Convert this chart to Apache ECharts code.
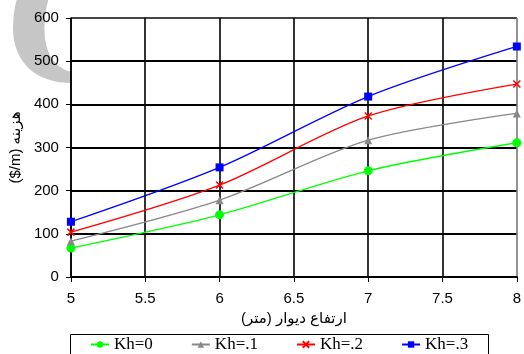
<!DOCTYPE html>
<html>
<head>
<meta charset="utf-8">
<script src="https://cdn.jsdelivr.net/npm/echarts@6/dist/echarts.min.js"></script>
<style>
  html, body { margin: 0; padding: 0; background: #fff; }
  #chart { width: 524px; height: 354px; }
</style>
</head>
<body>
<div id="chart"></div>
<script>
// Wall height (m) on the x axis
const heights = [5, 6, 7, 8];

// Cost per metre for each seismic coefficient Kh
const kh0 = [67, 144, 246, 311];
const kh1 = [83, 178, 317, 379];
const kh2 = [104, 213, 373, 447];
const kh3 = [128, 254, 418, 534];

const seriesNames = ['Kh=0', 'Kh=.1', 'Kh=.2', 'Kh=.3'];

const xName = '\u200Fارتفاع دیوار (متر)\u200F';
const yName = '($/m) هزینه';

const pairs = (ys) => heights.map((x, i) => [x, ys[i]]);

const crossPath = 'path://M0,0 L10,10 M10,0 L0,10';

const chart = echarts.init(document.getElementById('chart'));

const tickFont = { fontFamily: 'Liberation Sans, Arial, sans-serif', fontSize: 15, color: '#000' };

chart.setOption({
  animation: false,
  backgroundColor: '#fff',
  graphic: [
    {
      type: 'text',
      z: -100,
      left: 6,
      top: -74,
      style: {
        text: 'C',
        font: 'italic bold 205px "Liberation Serif", serif',
        fill: '#c6c6c6'
      }
    },
    {
      type: 'rect',
      shape: { x: 70.5, y: 334.5, width: 418, height: 40 },
      style: { fill: 'none', stroke: '#000', lineWidth: 1 }
    }
  ],
  grid: {
    left: 69, right: 7, top: 18, bottom: 77,
    show: true, backgroundColor: '#fff', borderWidth: 0
  },
  legend: {
    left: 85, top: 331,
    itemWidth: 18, itemHeight: 8, itemGap: 38,
    data: seriesNames,
    textStyle: {
      fontFamily: 'Liberation Serif, Times New Roman, serif',
      fontSize: 17, color: '#000'
    }
  },
  xAxis: {
    type: 'value',
    min: 5, max: 8, interval: 0.5,
    name: xName,
    nameLocation: 'middle',
    nameGap: 33,
    nameTextStyle: { fontFamily: 'Liberation Sans, DejaVu Sans, sans-serif', fontSize: 15, color: '#000' },
    axisLine: { lineStyle: { color: '#000', width: 2 } },
    axisTick: { show: true, length: 5, lineStyle: { color: '#000', width: 1 } },
    axisLabel: Object.assign({ margin: 14 }, tickFont),
    splitLine: { show: true, lineStyle: { color: ['#000', '#000', '#000', '#000', '#000', '#000', '#777'], width: 1.6 } }
  },
  yAxis: {
    type: 'value',
    min: 0, max: 600, interval: 100,
    name: yName,
    nameLocation: 'middle',
    nameRotate: 90,
    nameGap: 43,
    nameTextStyle: { fontFamily: 'Liberation Sans, DejaVu Sans, sans-serif', fontSize: 15, color: '#000' },
    axisLine: { show: true, lineStyle: { color: '#000', width: 1.5 } },
    axisTick: { show: true, length: 5, lineStyle: { color: '#000', width: 1 } },
    axisLabel: Object.assign({ margin: 12 }, tickFont),
    splitLine: { show: true, lineStyle: { color: ['#000', '#000', '#000', '#000', '#000', '#000', '#444'], width: 2 } }
  },
  series: [
    {
      name: seriesNames[0], type: 'line', smooth: 0.3, data: pairs(kh0),
      symbol: 'circle', symbolSize: 9,
      itemStyle: { color: '#00ff00' }, lineStyle: { color: '#00ff00', width: 1.3 }
    },
    {
      name: seriesNames[1], type: 'line', smooth: 0.3, data: pairs(kh1),
      symbol: 'triangle', symbolSize: 8,
      itemStyle: { color: '#888' }, lineStyle: { color: '#888', width: 1.3 }
    },
    {
      name: seriesNames[2], type: 'line', smooth: 0.3, data: pairs(kh2),
      symbol: crossPath, symbolSize: 7,
      itemStyle: { color: '#ff0000', borderColor: '#ff0000', borderWidth: 1.5 },
      lineStyle: { color: '#ff0000', width: 1.3 }
    },
    {
      name: seriesNames[3], type: 'line', smooth: 0.3, data: pairs(kh3),
      symbol: 'rect', symbolSize: 8,
      itemStyle: { color: '#0000ff' }, lineStyle: { color: '#0000ff', width: 1.3 }
    }
  ]
});
</script>
</body>
</html>
